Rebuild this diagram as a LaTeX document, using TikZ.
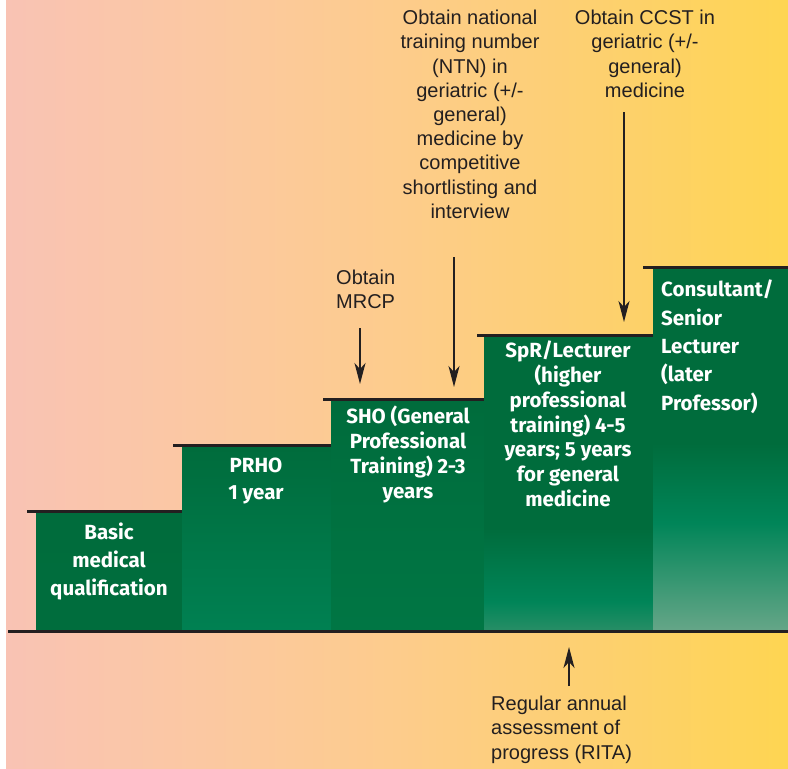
\documentclass[tikz,border=0pt]{standalone}
\usepackage{fontspec}
\setmainfont{Liberation Sans}
\newfontfamily\stepfont{Fira Sans}
\usetikzlibrary{arrows.meta}
\definecolor{ink}{RGB}{35,31,32}
\definecolor{bgA}{RGB}{249,195,180}
\definecolor{bgB}{RGB}{251,200,162}
\definecolor{bgC}{RGB}{253,204,140}
\definecolor{bgD}{RGB}{253,208,112}
\definecolor{bgE}{RGB}{254,213,82}
\definecolor{gTop}{RGB}{0,108,60}
\definecolor{gMid}{RGB}{0,118,68}
\definecolor{gBright}{RGB}{0,133,88}
\definecolor{gLow}{RGB}{40,142,102}
\definecolor{gPale}{RGB}{102,166,136}
\pgfdeclarehorizontalshading{bgshade}{100bp}{color(0bp)=(bgA); color(25bp)=(bgA); color(37.5bp)=(bgB); color(50bp)=(bgC); color(62.5bp)=(bgD); color(75bp)=(bgE); color(100bp)=(bgE)}
\pgfdeclareverticalshading{gfour}{100bp}{color(0bp)=(gLow); color(25bp)=(gLow); color(30bp)=(gBright); color(42.5bp)=(gTop); color(75bp)=(gTop); color(100bp)=(gTop)}
\pgfdeclareverticalshading{gfive}{100bp}{color(0bp)=(gPale); color(25bp)=(gPale); color(40bp)=(gBright); color(51bp)=(gTop); color(75bp)=(gTop); color(100bp)=(gTop)}
\tikzset{
  stepbox/.style={draw=none, inner sep=0pt, outer sep=0pt, anchor=north west},
  stepline/.style={draw=ink, line width=3.5pt},
  steptext/.style={text=white, inner sep=0pt, align=center, anchor=north},
  note/.style={text=ink, inner sep=0pt, align=center, anchor=north, font=\fontsize{20}{24.2}\selectfont},
  arr/.style={draw=ink, line width=2pt, -{Stealth[length=21pt, width=11pt, inset=6pt]}}
}
\begin{document}
\begin{tikzpicture}[x=1pt, y=-1pt]
\useasboundingbox (0,0) rectangle (788,769);
\fill[white] (0,0) rectangle (788,769);
\shade[shading=bgshade] (6,0) rectangle (788,769);

% green steps
\node[stepbox, minimum width=146pt, minimum height=118pt, top color=gTop, bottom color=gTop!85!gMid] (b1) at (36,513) {};
\node[stepbox, minimum width=149pt, minimum height=184pt, top color=gTop, bottom color=gBright!70!gMid] (b2) at (182,447) {};
\node[stepbox, minimum width=153pt, minimum height=230pt, top color=gTop, bottom color=gMid] (b3) at (331,401) {};
\node[stepbox, minimum width=169pt, minimum height=294pt, shading=gfour] (b4) at (484,337) {};
\node[stepbox, minimum width=135pt, minimum height=362pt, shading=gfive] (b5) at (653,269) {};

% tread lines
\draw[stepline] ([xshift=-9pt, yshift=1.5pt]b1.north west) -- ([yshift=1.5pt]b1.north east);
\draw[stepline] ([xshift=-9pt, yshift=1.5pt]b2.north west) -- ([yshift=1.5pt]b2.north east);
\draw[stepline] ([xshift=-8pt, yshift=1.5pt]b3.north west) -- ([yshift=1.5pt]b3.north east);
\draw[stepline] ([xshift=-7pt, yshift=1.5pt]b4.north west) -- ([yshift=1.5pt]b4.north east);
\draw[stepline] ([xshift=-10pt, yshift=1.5pt]b5.north west) -- ([yshift=1.5pt]b5.north east);
\coordinate (baseL) at (8,631.5);
\draw[stepline] (baseL) -- (baseL -| b5.east);

% step texts
\node[steptext, font=\stepfont\bfseries\fontsize{20.5}{28}\selectfont] (t1) at (109,523) {Basic\\medical\\qualification};
\node[steptext, font=\stepfont\bfseries\fontsize{20.5}{27}\selectfont] (t2) at (256,458) {PRHO\\1 year};
\node[steptext, font=\stepfont\bfseries\fontsize{20.5}{25}\selectfont] (t3) at (408,406) {SHO (General\\Professional\\Training) 2-3\\years};
\node[steptext, font=\stepfont\bfseries\fontsize{20.5}{24.7}\selectfont] (t4) at (568,341) {SpR/Lecturer\\(higher\\professional\\training) 4-5\\years; 5 years\\for general\\medicine};
\node[steptext, align=left, anchor=north west, font=\stepfont\bfseries\fontsize{20.5}{28.3}\selectfont] (t5) at (661,280) {Consultant/\\Senior\\Lecturer\\(later\\Professor)};

% annotations
\node[note] (ntn) at (470,10) {Obtain national\\training number\\(NTN) in\\geriatric (+/-\\general)\\medicine by\\competitive\\shortlisting and\\interview};
\node[note] (ccst) at (645,10) {Obtain CCST in\\geriatric (+/-\\general)\\medicine};
\node[note, align=left, anchor=north west] (mrcp) at (336,270) {Obtain\\MRCP};
\node[note, align=left, anchor=north west] (rita) at (491,696) {Regular annual\\assessment of\\progress (RITA)};

% arrows
\coordinate (mrcpTail) at (360,328);
\coordinate (mrcpTip) at (360,384);
\coordinate (ntnTail) at (454,257);
\coordinate (ntnTip) at (454,387);
\coordinate (ccstTail) at (624,112);
\coordinate (ccstTip) at (624,322);
\coordinate (ritaTail) at (569,686);
\coordinate (ritaTip) at (569,647);
\draw[arr] (mrcpTail) -- (mrcpTip);
\draw[arr] (ntnTail) -- (ntnTip);
\draw[arr] (ccstTail) -- (ccstTip);
\draw[arr] (ritaTail) -- (ritaTip);
\end{tikzpicture}
\end{document}
